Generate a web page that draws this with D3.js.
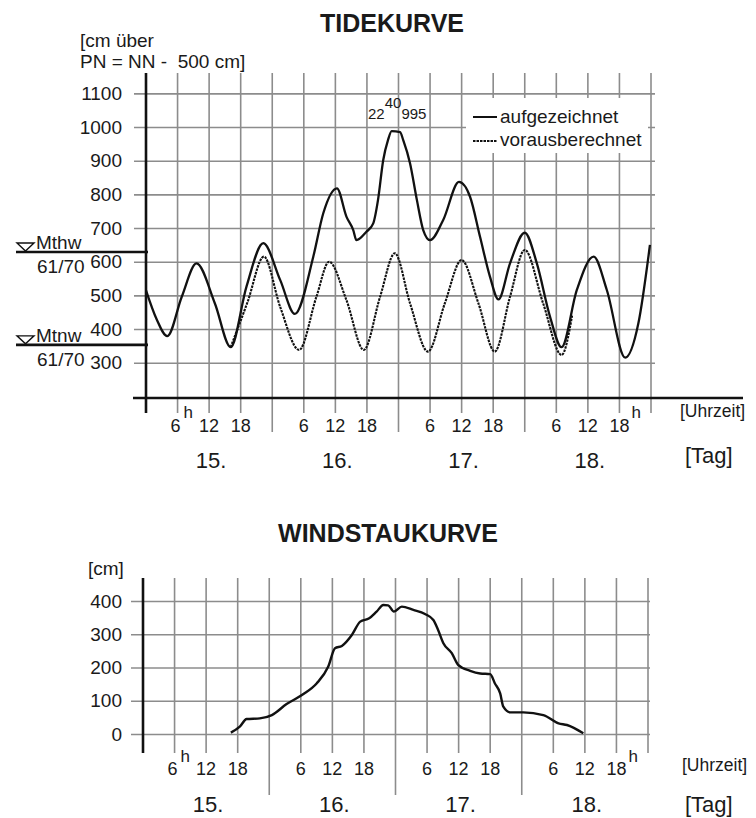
<!DOCTYPE html>
<html>
<head>
<meta charset="utf-8">
<script src="https://cdn.jsdelivr.net/npm/d3@7"></script>
<style>
  body { margin: 0; background: #fff; }
  svg text { font-family: "Liberation Sans", Arial, sans-serif; fill: #1a1a1a; }
</style>
</head>
<body>
<svg id="chart" width="756" height="818"></svg>
<script>
// hours from 15. 0h to 19. 0h
var hourTicks = [6, 12, 18, 30, 36, 42, 54, 60, 66, 78, 84, 90];
var dayBounds = [24, 48, 72];
var dayCenters = [12, 36, 60, 84];
var dayLabels = ["15.", "16.", "17.", "18."];
var tideTicks = [300, 400, 500, 600, 700, 800, 900, 1000, 1100];
var windTicks = [0, 100, 200, 300, 400];

// mean high / low water 61/70
var meanNames = ["Mthw", "Mtnw"];
var meanValues = [629, 353];

// aufgezeichnet (recorded)
var recHours = [0, 2, 4.05, 6.8, 9.6, 13.1, 16.1, 19.1, 22.3, 25.5, 28.3, 31.8, 33.7, 36.3, 38.1, 39.4, 40.0, 41.9, 43.2, 44.1, 45.1, 46.0, 46.7, 48.3, 48.9, 50.2, 51.5, 52.7, 54.0, 56.5, 59.5, 61.6, 63.5, 65.4, 67.0, 69.2, 72.0, 74.3, 76.8, 79.0, 81.9, 85.1, 87.6, 91.1, 93.6, 95.8];
var recValues = [515, 430, 379, 496, 595, 476, 346, 526, 655, 546, 445, 615, 744, 818, 734, 694, 664, 689, 714, 783, 902, 961, 988, 985, 961, 892, 783, 694, 664, 724, 837, 793, 674, 555, 488, 595, 686, 595, 437, 346, 516, 615, 516, 315, 417, 650];

// vorausberechnet (predicted)
var predHours = [16.1, 19.3, 22.4, 25.5, 29.1, 32.4, 34.8, 38.1, 41.4, 44.5, 47.3, 50.2, 53.6, 56.8, 60.0, 63.2, 66.3, 69.2, 72.0, 75.5, 79.0, 81.0];
var predValues = [346, 480, 615, 466, 338, 496, 600, 486, 338, 496, 625, 476, 333, 476, 605, 476, 333, 496, 635, 476, 323, 440];

// Windstau
var windHours = [16.7, 18.4, 19.7, 22.2, 24.5, 27.3, 30.5, 33.0, 35.2, 36.5, 37.8, 39.7, 41.3, 43.0, 44.4, 45.7, 46.6, 47.7, 49.2, 51.4, 53.6, 55.2, 56.1, 57.1, 58.7, 59.9, 62.2, 64.1, 66.0, 66.9, 67.9, 68.5, 69.8, 72.3, 76.1, 79.0, 80.6, 83.7];
var windValues = [4, 22, 45, 47, 57, 90, 120, 152, 202, 258, 265, 298, 338, 348, 368, 388, 387, 368, 383, 373, 361, 343, 313, 273, 243, 208, 190, 182, 180, 152, 122, 82, 65, 65, 57, 32, 27, 2];

var svg = d3.select("#chart");
var gridColor = "#8c8c8c";

function hourLabel(g, x, h, base, supBase, first, last) {
  var lab = String(h % 24);
  if (first) {
    g.append("text").attr("x", x + 3).attr("y", base).attr("text-anchor", "end")
      .style("font-size", "18px").text(lab);
    g.append("text").attr("x", x + 6).attr("y", supBase).style("font-size", "17px").text("h");
  } else {
    g.append("text").attr("x", x).attr("y", base).attr("text-anchor", "middle")
      .style("font-size", "18px").text(lab);
    if (last) g.append("text").attr("x", x + 12).attr("y", supBase).style("font-size", "17px").text("h");
  }
}

//Tidekurve
var tide = svg.append("g");
var x = d3.scaleLinear().domain([0, 96]).range([146, 651]);
var y = d3.scaleLinear().domain([300, 1100]).range([362.7, 93.4]);
var axisY = 398;

tide.append("text").attr("x", 392).attr("y", 32).attr("text-anchor", "middle")
  .style("font-size", "25px").style("font-weight", "bold").text("TIDEKURVE");
tide.append("text").attr("x", 80).attr("y", 47).style("font-size", "19px").text("[cm über");
tide.append("text").attr("x", 80).attr("y", 68).style("font-size", "19px").style("white-space", "pre")
  .text("PN = NN -  500 cm]");

tide.append("g").attr("transform", "translate(134,0)")
  .call(d3.axisLeft(y).tickValues(tideTicks).tickFormat(d3.format("d"))
    .tickSizeInner(-(655 - 134)).tickSizeOuter(0).tickPadding(12))
  .call(function(g) {
    g.select(".domain").remove();
    g.selectAll(".tick line").attr("stroke", gridColor).attr("stroke-width", 1.6);
    g.selectAll(".tick text").style("font-size", "19px").attr("fill", "#1a1a1a");
  });

tide.selectAll(".vgrid").data(hourTicks.concat(dayBounds, [96])).enter().append("line")
  .attr("x1", function(d) { return x(d); }).attr("x2", function(d) { return x(d); })
  .attr("y1", 73).attr("y2", function(d) { return dayBounds.indexOf(d) >= 0 ? 432 : 413; })
  .attr("stroke", gridColor).attr("stroke-width", 1.6);

// axes
tide.append("line").attr("x1", x(0)).attr("x2", x(0)).attr("y1", 73).attr("y2", 413)
  .attr("stroke", "#111").attr("stroke-width", 2.6);
tide.append("line").attr("x1", 133).attr("x2", 743).attr("y1", axisY).attr("y2", axisY)
  .attr("stroke", "#111").attr("stroke-width", 2.6);

// mean levels
meanNames.forEach(function(name, i) {
  var yy = y(meanValues[i]);
  tide.append("line").attr("x1", 16).attr("x2", 148).attr("y1", yy).attr("y2", yy)
    .attr("stroke", "#111").attr("stroke-width", 2.6);
  tide.append("path").attr("d", "M17," + (yy - 9) + "L34," + (yy - 9) + "L25.5," + (yy - 1) + "Z")
    .attr("fill", "none").attr("stroke", "#111").attr("stroke-width", 1.4);
  tide.append("text").attr("x", 36).attr("y", yy - 3).style("font-size", "19px").text(name);
  tide.append("text").attr("x", 37).attr("y", yy + 21).style("font-size", "19px").text("61/70");
});

var line = d3.line().x(function(d) { return x(d[0]); }).y(function(d) { return y(d[1]); })
  .curve(d3.curveMonotoneX);
tide.append("path").datum(d3.zip(predHours, predValues)).attr("d", line)
  .attr("fill", "none").attr("stroke", "#111").attr("stroke-width", 2.1).attr("stroke-dasharray", "2.5,1");
tide.append("path").datum(d3.zip(recHours, recValues)).attr("d", line)
  .attr("fill", "none").attr("stroke", "#111").attr("stroke-width", 2.3);

// peak note 22^40 995
var note = tide.append("text").attr("x", 368).attr("y", 119).style("font-size", "15px");
note.append("tspan").text("22");
note.append("tspan").attr("dy", -11).text("40");
note.append("tspan").attr("dy", 11).text("995");

// legend
tide.append("rect").attr("x", 466).attr("y", 98).attr("width", 182).attr("height", 55).attr("fill", "#fff");
tide.append("line").attr("x1", 473).attr("x2", 497).attr("y1", 117).attr("y2", 117)
  .attr("stroke", "#111").attr("stroke-width", 2);
tide.append("text").attr("x", 500).attr("y", 123).style("font-size", "19px").text("aufgezeichnet");
tide.append("line").attr("x1", 473).attr("x2", 497).attr("y1", 141).attr("y2", 141)
  .attr("stroke", "#111").attr("stroke-width", 1.8).attr("stroke-dasharray", "2.5,1");
tide.append("text").attr("x", 500).attr("y", 146).style("font-size", "19px").text("vorausberechnet");

hourTicks.forEach(function(h, i) {
  hourLabel(tide, x(h), h, 432, 418, i === 0, i === hourTicks.length - 1);
});
dayCenters.forEach(function(h, i) {
  tide.append("text").attr("x", x(h) + 2).attr("y", 468).attr("text-anchor", "middle")
    .style("font-size", "22px").text(dayLabels[i]);
});
tide.append("text").attr("x", 680).attr("y", 417).style("font-size", "17.5px").text("[Uhrzeit]");
tide.append("text").attr("x", 685).attr("y", 463).style("font-size", "22px").text("[Tag]");

//Windstaukurve
var wind = svg.append("g");
var x2 = d3.scaleLinear().domain([0, 96]).range([143, 648]);
var y2 = d3.scaleLinear().domain([0, 400]).range([734, 601]);

wind.append("text").attr("x", 388).attr("y", 542).attr("text-anchor", "middle")
  .style("font-size", "25px").style("font-weight", "bold").text("WINDSTAUKURVE");
wind.append("text").attr("x", 88).attr("y", 575).style("font-size", "19px").text("[cm]");

wind.append("g").attr("transform", "translate(131,0)")
  .call(d3.axisLeft(y2).tickValues(windTicks).tickFormat(d3.format("d"))
    .tickSizeInner(-(650 - 131)).tickSizeOuter(0).tickPadding(9))
  .call(function(g) {
    g.select(".domain").remove();
    g.selectAll(".tick line").attr("stroke", gridColor).attr("stroke-width", 1.6);
    g.selectAll(".tick text").style("font-size", "19px").attr("fill", "#1a1a1a");
  });

wind.selectAll(".vgrid").data(hourTicks.concat(dayBounds, [96])).enter().append("line")
  .attr("x1", function(d) { return x2(d); }).attr("x2", function(d) { return x2(d); })
  .attr("y1", 578).attr("y2", function(d) { return dayBounds.indexOf(d) >= 0 ? 795 : 753; })
  .attr("stroke", gridColor).attr("stroke-width", 1.6);

wind.append("line").attr("x1", x2(0)).attr("x2", x2(0)).attr("y1", 578).attr("y2", 753)
  .attr("stroke", "#111").attr("stroke-width", 2.6);

var line2 = d3.line().x(function(d) { return x2(d[0]); }).y(function(d) { return y2(d[1]); })
  .curve(d3.curveMonotoneX);
wind.append("path").datum(d3.zip(windHours, windValues)).attr("d", line2)
  .attr("fill", "none").attr("stroke", "#111").attr("stroke-width", 2.4);

hourTicks.forEach(function(h, i) {
  hourLabel(wind, x2(h), h, 775, 762, i === 0, i === hourTicks.length - 1);
});
dayCenters.forEach(function(h, i) {
  wind.append("text").attr("x", x2(h) + 2).attr("y", 812).attr("text-anchor", "middle")
    .style("font-size", "22px").text(dayLabels[i]);
});
wind.append("text").attr("x", 682).attr("y", 771).style("font-size", "17.5px").text("[Uhrzeit]");
wind.append("text").attr("x", 685).attr("y", 812).style("font-size", "22px").text("[Tag]");
</script>
</body>
</html>
